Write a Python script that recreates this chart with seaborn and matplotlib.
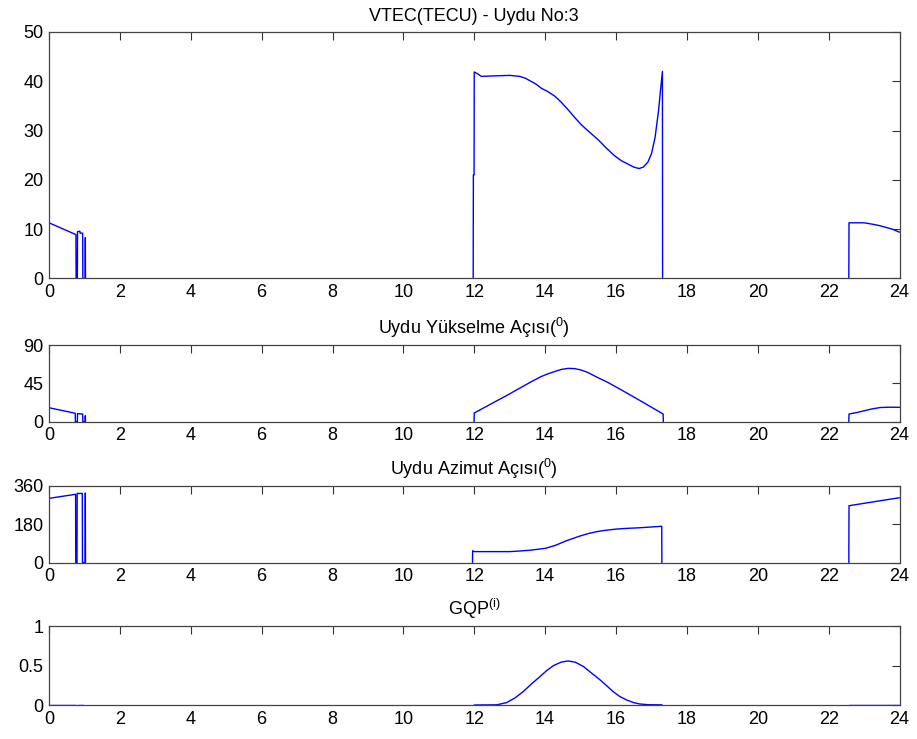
import numpy as np
import pandas as pd
import matplotlib
matplotlib.use("Agg")
import matplotlib.pyplot as plt
import seaborn as sns

nan = np.nan

# ---------------- data ----------------
hours_ticks = list(range(0, 25, 2))

vtec_t = [0, 0.38, 0.76, 0.765, 0.80, 0.805, 0.87, 0.88, 0.95, 0.955, 1.02, 1.025, 1.03, nan,
          11.97, 11.975, 11.995, 12.0, 12.1, 12.2, 12.57, 13.0, 13.28, 13.45, 13.6, 13.75,
          13.89, 14.08, 14.27, 14.45, 14.64, 14.83, 15.02, 15.25, 15.49, 15.72, 15.96,
          16.15, 16.34, 16.5, 16.65, 16.77, 16.9, 17.0, 17.1, 17.2, 17.26,
          17.31, 17.315, nan,
          22.57, 22.575, 23.0, 23.25, 23.45, 23.65, 23.8, 24.0]
vtec_v = [11.3, 10.1, 8.9, 0, 0, 9.5, 9.6, 9.2, 9.2, 0, 0, 8.3, 0, nan,
          0, 21.0, 21.0, 41.9, 41.5, 41.0, 41.1, 41.2, 41.0, 40.6, 40.0, 39.4,
          38.6, 37.9, 37.0, 35.8, 34.3, 32.7, 31.2, 29.7, 28.2, 26.5, 24.9,
          23.9, 23.2, 22.6, 22.3, 22.6, 23.6, 25.3, 28.5, 34.0, 38.5,
          42.0, 0, nan,
          0, 11.3, 11.3, 11.0, 10.7, 10.3, 10.0, 9.4]

elev_t = [0, 0.74, 0.745, 0.80, 0.805, 0.95, 0.955, 1.02, 1.025, 1.03, nan,
          11.995, 12.0, 12.47, 12.94, 13.41, 13.65, 13.88, 14.08, 14.26, 14.45, 14.65,
          14.83, 15.0, 15.2, 15.45, 15.77, 16.24, 16.72, 17.33, 17.335, nan,
          22.57, 22.575, 22.8, 23.0, 23.2, 23.45, 23.7, 24.0]
elev_v = [16.4, 9.9, 0, 0, 9.5, 9.0, 0, 0, 7.0, 0, nan,
          0, 10.2, 20.8, 31.3, 42.3, 47.8, 52.8, 56.2, 58.7, 61.3, 62.6,
          62.3, 60.8, 57.9, 52.5, 46.1, 35.2, 23.8, 9.0, 0, nan,
          0, 9.0, 10.8, 12.8, 14.8, 16.6, 17.0, 16.9]

azim_t = [0, 0.75, 0.755, 0.79, 0.795, 0.94, 0.945, 1.02, 1.025, 1.03, nan,
          11.95, 11.955, 12.0, 12.5, 13.0, 13.29, 13.6, 14.01, 14.3, 14.6, 14.98,
          15.2, 15.45, 15.7, 16.02, 16.35, 16.67, 17.29, 17.295, nan,
          22.57, 22.575, 24.0]
azim_v = [302, 321, 0, 0, 325, 325, 0, 0, 327, 0, nan,
          0, 56, 52, 52, 52, 55, 59, 67.5, 82, 103, 125,
          136, 145.5, 152, 158, 161.5, 164, 171, 0, nan,
          0, 267.5, 305]

gqp_t = [0, 0.77, nan, 0.82, 0.97, nan,
         12.0, 12.63, 12.91, 13.15, 13.38, 13.62, 13.85, 14.05, 14.23, 14.45, 14.65,
         14.85, 15.08, 15.3, 15.55, 15.75, 15.92, 16.1, 16.3, 16.5, 16.67, 16.9, 17.3, nan,
         22.57, 24.0]
gqp_v = [0.004, 0.004, nan, 0.004, 0.004, nan,
         0.0, 0.002, 0.03, 0.09, 0.17, 0.27, 0.36, 0.44, 0.50, 0.545, 0.56,
         0.545, 0.49, 0.41, 0.32, 0.24, 0.17, 0.11, 0.064, 0.03, 0.013, 0.004, 0.002, nan,
         0.004, 0.004]

titles = ["VTEC(TECU) - Uydu No:3",
          r"Uydu Yükselme Açısı($^{0}$)",
          r"Uydu Azimut Açısı($^{0}$)",
          r"GQP$^{\mathrm{(i)}}$"]
yticks = [[0, 10, 20, 30, 40, 50], [0, 45, 90], [0, 180, 360], [0, 0.5, 1]]
yticklabels = [["0", "10", "20", "30", "40", "50"], ["0", "45", "90"],
               ["0", "180", "360"], ["0", "0.5", "1"]]
series = [(vtec_t, vtec_v), (elev_t, elev_v), (azim_t, azim_v), (gqp_t, gqp_v)]

# ---------------- style ----------------
sns.set_theme(style="white")
plt.rcParams["font.family"] = ["Liberation Sans", "DejaVu Sans"]
plt.rcParams["mathtext.fontset"] = "custom"
plt.rcParams["mathtext.rm"] = "Liberation Sans"
plt.rcParams["mathtext.it"] = "Liberation Sans:italic"
plt.rcParams["mathtext.bf"] = "Liberation Sans:bold"

fig = plt.figure(figsize=(9.17, 7.39), dpi=100)
W, H = 917.0, 739.0
left, right = 49.0, 899.5
boxes = [(32.0, 278.5), (345.0, 421.7), (486.0, 562.7), (626.4, 705.0)]
FS = 13


def to_df(t, v):
    df = pd.DataFrame({"t": t, "v": v})
    df["seg"] = df["v"].isna().cumsum()
    return df.dropna().reset_index(drop=True)


for i, ((top, bot), (t, v)) in enumerate(zip(boxes, series)):
    ax = fig.add_axes([left / W, 1 - bot / H, (right - left) / W, (bot - top) / H])
    df = to_df(t, v)
    sns.lineplot(data=df, x="t", y="v", units="seg", estimator=None, sort=False,
                 color="#0000ff", lw=1.0, ax=ax, legend=False)
    ax.set_xlim(0, 24)
    ax.set_ylim(yticks[i][0], yticks[i][-1])
    ax.set_xticks(hours_ticks)
    ax.set_xticklabels([str(h) for h in hours_ticks])
    ax.set_yticks(yticks[i])
    ax.set_yticklabels(yticklabels[i])
    ax.set_xlabel("")
    ax.set_ylabel("")
    ax.set_title(titles[i], fontsize=FS, color="black", pad=8)
    ax.tick_params(direction="in", top=True, right=True, length=6, width=0.8,
                   colors="#333333", labelcolor="black", labelsize=FS, pad=4)
    for sp in ax.spines.values():
        sp.set_visible(True)
        sp.set_color("#444444")
        sp.set_linewidth(0.9)

fig.savefig("out.png", dpi=100)
